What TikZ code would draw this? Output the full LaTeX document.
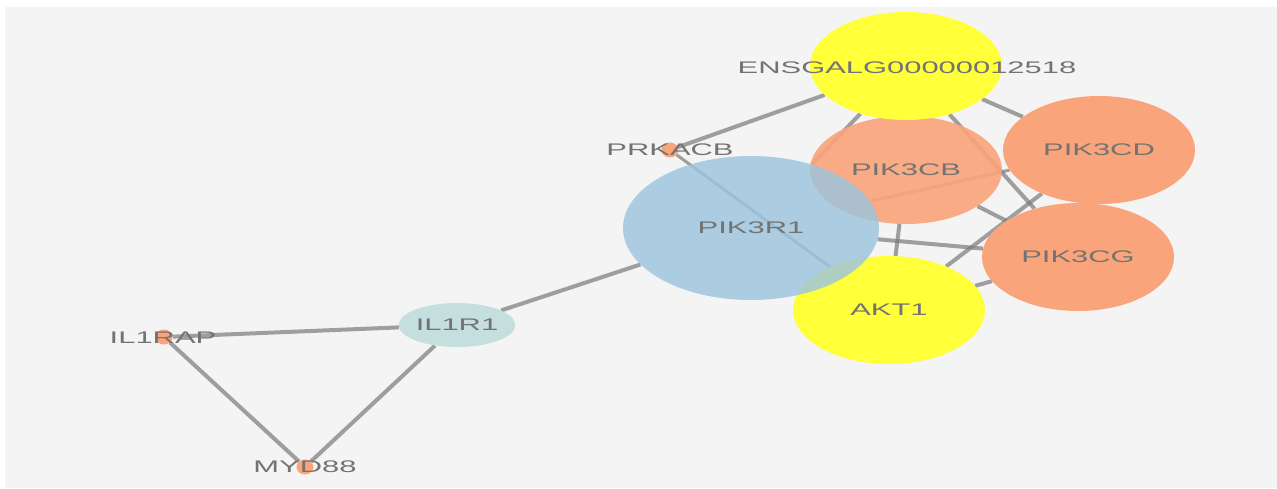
\documentclass[tikz,border=0pt]{standalone}
\usepackage{fontspec}
\usepackage{graphicx}
\setmainfont{Liberation Sans}
\usetikzlibrary{shapes.geometric}
\pgfdeclarelayer{bg}
\pgfdeclarelayer{edges}
\pgfsetlayers{bg,edges,main}
\definecolor{bgc}{HTML}{F4F4F4}
\definecolor{edgec}{HTML}{7A7A7A}
\definecolor{labelc}{HTML}{737373}
\definecolor{ygene}{HTML}{FFFF3A}
\definecolor{ogene}{HTML}{F9A47A}
\definecolor{bgene}{HTML}{9CC4DE}
\definecolor{tgene}{HTML}{C4DFDD}
\newcommand{\xs}[1]{\scalebox{1.84}[1]{#1}}
\tikzset{
  lbl/.style={font=\fontsize{16.8}{18}\selectfont, text=labelc, text opacity=1, inner sep=0pt},
  gene/.style={ellipse, inner sep=0pt, minimum width=192pt, minimum height=108pt, draw=none, lbl},
  hub/.style={ellipse, inner sep=0pt, minimum width=256pt, minimum height=144pt, draw=none, lbl},
  small/.style={ellipse, inner sep=0pt, minimum width=80pt, minimum height=44pt, draw=none, lbl},
  dotnode/.style={ellipse, inner sep=0pt, minimum width=17pt, minimum height=15pt, draw=none, fill=ogene},
  edge/.style={draw=edgec, draw opacity=.7, line width=4pt}
}
\begin{document}
\begin{tikzpicture}[x=1pt,y=-1pt]
\begin{pgfonlayer}{bg}
\fill[white] (0,0) rectangle (1277,488);
\fill[bgc] (5,7) rectangle (1277,488);
\end{pgfonlayer}
\path[use as bounding box] (0,0) rectangle (1277,488);

% small nodes
\node[dotnode] (IL1RAP) at (164,337) {};
\node[dotnode] (MYD88) at (305,467) {};
\node[dotnode] (PRKACB) at (670,150) {};
\node[small, fill=tgene] (IL1R1) at (457,325) {\xs{IL1R1}};

% large nodes
\node[gene, fill=ogene, fill opacity=.9] (PIK3CB) at (906,170) {\xs{PIK3CB}};
\node[gene, fill=ygene] (ENSG) at (906,66) {};
\node[gene, fill=ogene] (PIK3CD) at (1099,150) {\xs{PIK3CD}};
\node[gene, fill=ogene] (PIK3CG) at (1078,257) {\xs{PIK3CG}};
\node[gene, fill=ygene] (AKT1) at (889,310) {\xs{AKT1}};
\node[hub, fill=bgene, fill opacity=.82] (PIK3R1) at (751,228) {\xs{PIK3R1}};

% labels of the small nodes and ENSG
\node[lbl] (IL1RAPl) at (163,338) {\xs{IL1RAP}};
\node[lbl] (MYD88l) at (305,467) {\xs{MYD88}};
\node[lbl] (PRKACBl) at (670,150) {\xs{PRKACB}};
\node[lbl] (ENSGl) at (907,68) {\xs{ENSGALG00000012518}};

\begin{pgfonlayer}{edges}
\draw[edge] (IL1RAP) -- (IL1R1);
\draw[edge] (IL1RAP) -- (MYD88);
\draw[edge] (MYD88) -- (IL1R1);
\draw[edge] (IL1R1) -- (PIK3R1);
\draw[edge] (PRKACB) -- (ENSG);
\draw[edge, line width=3pt] (PRKACB) -- (AKT1);
\draw[edge] (ENSG) -- (PIK3R1);
\draw[edge] (ENSG) -- (PIK3CG);
\draw[edge] (ENSG) -- (PIK3CD);
\draw[edge, line width=3pt] (PIK3R1) -- (PIK3CD);
\draw[edge] (PIK3CB) -- (AKT1);
\draw[edge] (PIK3R1) -- (PIK3CG);
\draw[edge] (PIK3CB) -- (PIK3CG);
\draw[edge] (AKT1) -- (PIK3CD);
\draw[edge] (AKT1) -- (PIK3CG);
\end{pgfonlayer}
\end{tikzpicture}
\end{document}
